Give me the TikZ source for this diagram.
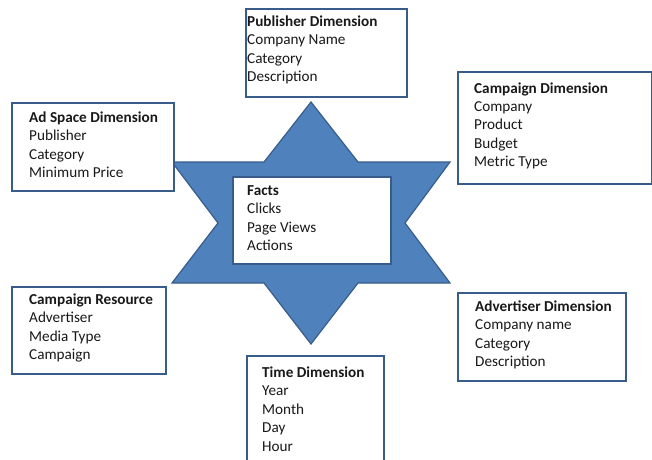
\documentclass[tikz,border=0pt]{standalone}
\usepackage{fontspec}
\setmainfont{Carlito}
\definecolor{starfill}{HTML}{4F81BD}
\definecolor{starline}{HTML}{385D8A}
\begin{document}
\begin{tikzpicture}[x=1pt,y=-1pt,
  box/.style={draw=starline,line width=1.8pt,fill=white,rectangle,inner sep=0pt,anchor=north west},
  txt/.style={anchor=base west,inner sep=0pt,align=left,font=\fontsize{15.2}{18.4}\selectfont,text=black!90}]
\useasboundingbox (0,0) rectangle (652,459);
% star
\draw[fill=starfill,draw=starline,line width=1.2pt,line join=miter]
  (311,102) -- (358,162) -- (450,162) -- (405,223) -- (450,283) -- (358,283)
  -- (311,344) -- (264,283) -- (172,283) -- (218,223) -- (172,162) -- (264,162) -- cycle;
% boxes (text nodes anchored at the baseline of their last line)
\node[box,minimum width=158pt,minimum height=87pt] (factsbox) at (232,176) {};
\node[txt] (facts) at (247,250.6) {\textbf{Facts}\\Clicks\\Page Views\\Actions};

\node[box,minimum width=161pt,minimum height=88pt] (pubbox) at (245,8) {};
\node[txt] (pub) at (247,81.4) {\textbf{Publisher Dimension}\\Company Name\\Category\\Description};

\node[box,minimum width=194pt,minimum height=112pt] (campbox) at (457,71) {};
\node[txt] (camp) at (474,166.6) {\textbf{Campaign Dimension}\\Company\\Product\\Budget\\Metric Type};

\node[box,minimum width=162pt,minimum height=88pt] (adbox) at (11,102) {};
\node[txt] (ad) at (29,177.6) {\textbf{Ad Space Dimension}\\Publisher\\Category\\Minimum Price};

\node[box,minimum width=154pt,minimum height=87pt] (resbox) at (11,286) {};
\node[txt] (res) at (29,359.6) {\textbf{Campaign Resource}\\Advertiser\\Media Type\\Campaign};

\node[box,minimum width=168pt,minimum height=88pt] (advbox) at (457,292) {};
\node[txt] (adv) at (475,366.6) {\textbf{Advertiser Dimension}\\Company name\\Category\\Description};

\node[box,minimum width=137pt,minimum height=120pt] (timebox) at (246,355) {};
\node[txt] (time) at (262,451) {\textbf{Time Dimension}\\Year\\Month\\Day\\Hour};
\end{tikzpicture}
\end{document}
